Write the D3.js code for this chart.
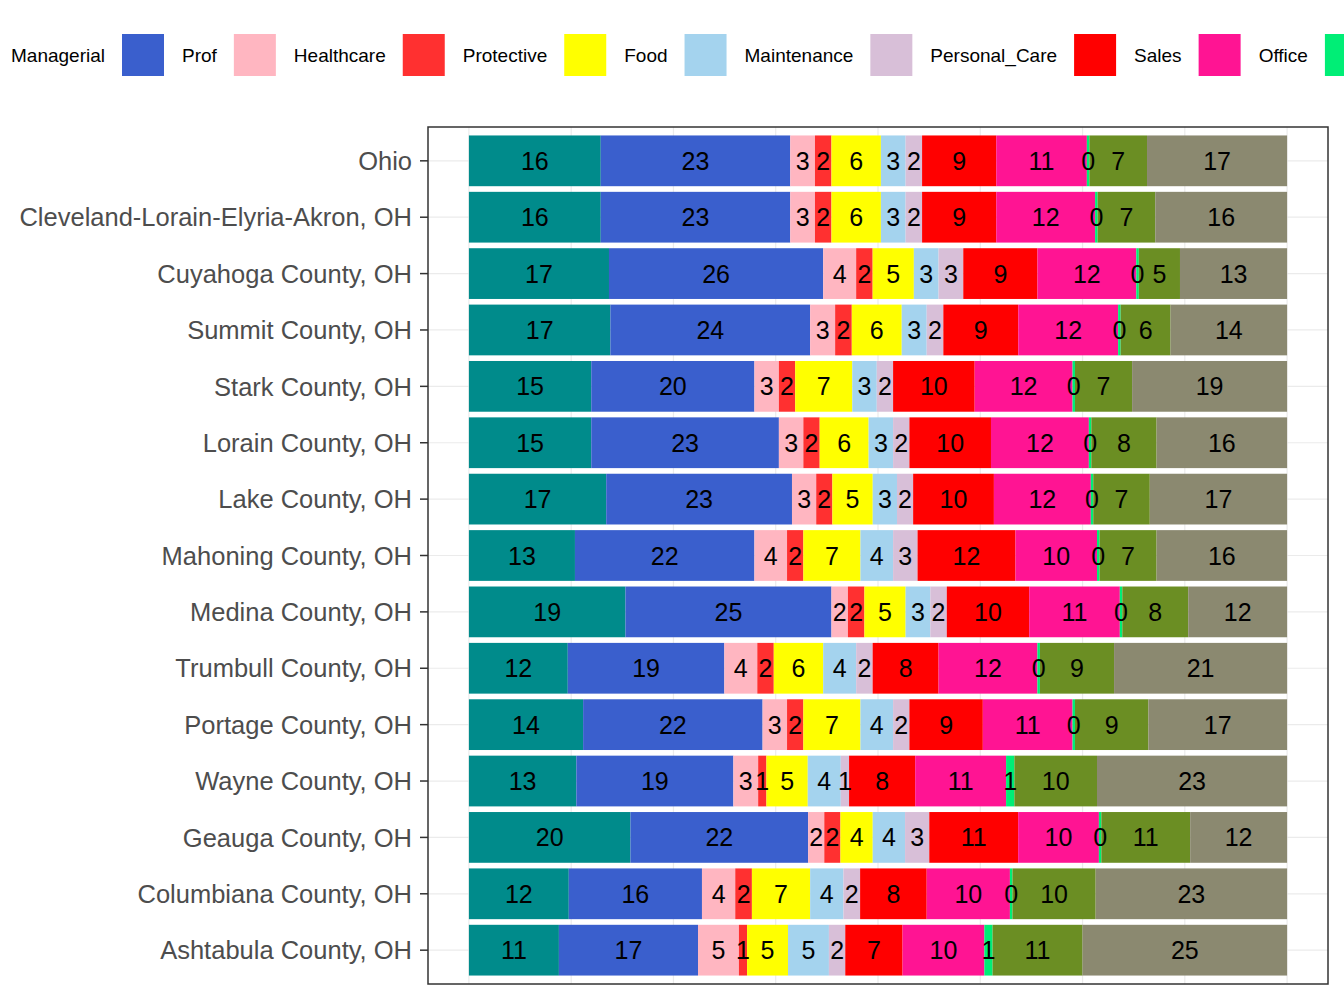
<!DOCTYPE html>
<html><head><meta charset="utf-8">
<script src="https://cdn.jsdelivr.net/npm/d3@7"></script>
<style>body{margin:0;background:#fff}svg{font-family:"Liberation Sans",Arial,sans-serif}</style>
</head><body><svg id="c" width="1344" height="1008"></svg>
<script>
const occupations=["Managerial","Prof","Healthcare","Protective","Food","Maintenance","Personal_Care","Sales","Office","Farming","Construction","Production"];
const colors=["#008B8B","#3A5FCD","#FFB6C1","#FF3030","#FFFF00","#A4D3EE","#D8BFD8","#FF0000","#FF1493","#00EE76","#6B8E23","#8B8970"];
const regions=["Ohio","Cleveland-Lorain-Elyria-Akron, OH","Cuyahoga County, OH","Summit County, OH","Stark County, OH","Lorain County, OH","Lake County, OH","Mahoning County, OH","Medina County, OH","Trumbull County, OH","Portage County, OH","Wayne County, OH","Geauga County, OH","Columbiana County, OH","Ashtabula County, OH"];
const shares=[
[16,23,3,2,6,3,2,9,11,0.3,7,17],
[16,23,3,2,6,3,2,9,12,0.3,7,16],
[17,26,4,2,5,3,3,9,12,0.3,5,13],
[17,24,3,2,6,3,2,9,12,0.3,6,14],
[15,20,3,2,7,3,2,10,12,0.3,7,19],
[15,23,3,2,6,3,2,10,12,0.3,8,16],
[17,23,3,2,5,3,2,10,12,0.3,7,17],
[13,22,4,2,7,4,3,12,10,0.3,7,16],
[19,25,2,2,5,3,2,10,11,0.3,8,12],
[12,19,4,2,6,4,2,8,12,0.3,9,21],
[14,22,3,2,7,4,2,9,11,0.3,9,17],
[13,19,3,1,5,4,1,8,11,1,10,23],
[20,22,2,2,4,4,3,11,10,0.3,11,12],
[12,16,4,2,7,4,2,8,10,0.3,10,23],
[11,17,5,1,5,5,2,7,10,1,11,25]];

const svg=d3.select("#c");
const L=428,R=1328,T=127,B=984;
const x=d3.scaleLinear().domain([0,1]).range([L+(R-L)*0.05/1.1,R-(R-L)*0.05/1.1]);
const step=(B-T)/(regions.length-1+1.2);
const yc=r=>T+0.6*step+regions.indexOf(r)*step;
const bh=step*0.9;
d3.range(0,1.0001,0.125).forEach(t=>svg.append("line").attr("x1",x(t)).attr("x2",x(t)).attr("y1",T).attr("y2",B).attr("stroke","#EBEBEB").attr("stroke-width",1.2));
regions.forEach(r=>svg.append("line").attr("x1",L).attr("x2",R).attr("y1",yc(r)).attr("y2",yc(r)).attr("stroke","#EBEBEB").attr("stroke-width",1.2));
const labels=[];
regions.forEach((r,i)=>{
  const vals=shares[i],tot=d3.sum(vals);let acc=0;
  vals.forEach((v,j)=>{
    const x0=x(acc/tot),x1=x((acc+v)/tot);acc+=v;
    svg.append("rect").attr("x",x0).attr("y",yc(r)-bh/2).attr("width",x1-x0).attr("height",bh).attr("fill",colors[j]);
    labels.push({x:(x0+x1)/2,y:yc(r),t:Math.round(v)});
  });
  svg.append("text").attr("x",L-16).attr("y",yc(r)).attr("dy","0.36em").attr("text-anchor","end").attr("font-size",25.5).attr("fill","#4D4D4D").text(r);
  svg.append("line").attr("x1",L-8).attr("x2",L).attr("y1",yc(r)).attr("y2",yc(r)).attr("stroke","#333").attr("stroke-width",1.5);
});
labels.forEach(d=>svg.append("text").attr("x",d.x).attr("y",d.y).attr("dy","0.36em").attr("text-anchor","middle").attr("font-size",25).attr("fill","#000").text(d.t));
svg.append("rect").attr("x",L).attr("y",T).attr("width",R-L).attr("height",B-T).attr("fill","none").attr("stroke","#333").attr("stroke-width",1.5);
let lx=-49;
occupations.forEach((o,j)=>{
  if(lx>1344) return;
  svg.append("rect").attr("x",lx).attr("y",34).attr("width",42).attr("height",42).attr("fill",colors[j]);
  const t=svg.append("text").attr("x",lx+42+18).attr("y",55).attr("dy","0.36em").attr("font-size",19).attr("fill","#000").text(o);
  const w=t.node().getComputedTextLength();
  if(lx+60+w>1344) t.remove();
  lx+=42+18+w+17;
});
</script></body></html>
